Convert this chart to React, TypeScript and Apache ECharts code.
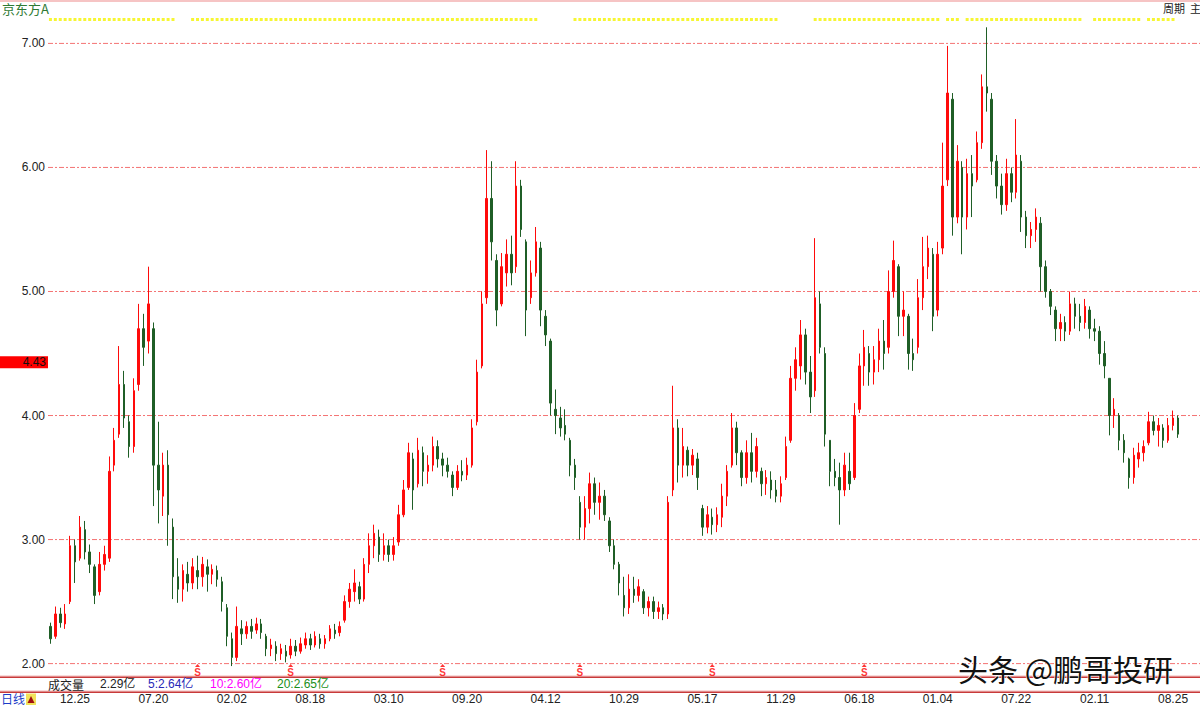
import React, { useEffect, useRef } from 'react';
import * as echarts from 'echarts';

const stockName = '京东方A';
const topRightText = '周期  主';
const periodText = '日线';
const tickLabels = ['12.25', '07.20', '02.02', '08.18', '03.10', '09.20', '04.12', '10.29', '05.17', '11.29', '06.18', '01.04', '07.22', '02.11', '08.25'];
const tickIndex = [5, 21, 37, 53, 69, 85, 101, 117, 133, 149, 165, 181, 197, 213, 229];
const priceLevels = [2, 3, 4, 5, 6, 7];
const cursorPrice = 4.43;
const sellSignalIndex = [30, 49, 80, 108, 135, 166];
const topSignalRanges = [[0, 25], [29, 99], [107, 148], [156, 181], [183, 185], [187, 189], [190, 195], [196, 197], [198, 210], [213, 222], [224, 229]];
const volumeTitle = '成交量';
const volumeValue = '2.29亿';
const volumeMALabels = ['5:2.64亿', '10:2.60亿', '20:2.65亿'];
const volumeMAColors = ['#2828b8', '#ff00ff', '#1a8f1a'];
const watermark = '头条 @鹏哥投研';
const totalSlots = 235;

// [open, close, low, high]
const kline: number[][] = [
  [2.30, 2.20, 2.16, 2.33], [2.22, 2.40, 2.20, 2.46], [2.40, 2.33, 2.29, 2.45], [2.32, 2.40, 2.28, 2.48],
  [2.50, 2.95, 2.48, 3.03], [2.95, 2.82, 2.65, 3.00], [2.85, 3.10, 2.83, 3.19], [3.08, 2.90, 2.84, 3.15],
  [2.90, 2.80, 2.73, 2.96], [2.78, 2.55, 2.48, 2.80], [2.58, 2.80, 2.55, 2.90], [2.80, 2.88, 2.75, 2.95],
  [2.85, 3.55, 2.82, 3.67], [3.60, 3.80, 3.55, 3.90], [3.85, 4.25, 3.82, 4.56], [4.25, 3.98, 3.90, 4.36],
  [3.95, 3.75, 3.66, 4.00], [3.75, 4.20, 3.70, 4.30], [4.25, 4.70, 4.20, 4.90], [4.70, 4.55, 4.40, 4.82],
  [4.60, 4.90, 4.50, 5.20], [4.70, 3.60, 3.27, 4.75], [3.60, 3.40, 3.13, 3.95], [3.35, 3.60, 3.19, 3.70],
  [3.60, 3.20, 2.95, 3.72], [3.10, 2.70, 2.52, 3.17], [2.70, 2.60, 2.49, 2.85], [2.60, 2.75, 2.50, 2.80],
  [2.72, 2.65, 2.58, 2.82], [2.65, 2.78, 2.60, 2.85], [2.75, 2.70, 2.60, 2.87], [2.70, 2.80, 2.62, 2.86],
  [2.78, 2.72, 2.58, 2.84], [2.72, 2.76, 2.64, 2.80], [2.75, 2.68, 2.62, 2.79], [2.66, 2.50, 2.42, 2.70],
  [2.45, 2.22, 2.14, 2.48], [2.20, 2.05, 1.98, 2.25], [2.05, 2.30, 2.02, 2.46], [2.28, 2.24, 2.15, 2.35],
  [2.24, 2.30, 2.20, 2.34], [2.30, 2.26, 2.20, 2.36], [2.27, 2.32, 2.24, 2.37], [2.32, 2.25, 2.20, 2.36],
  [2.22, 2.12, 2.06, 2.24], [2.12, 2.15, 2.06, 2.20], [2.14, 2.08, 2.02, 2.18], [2.08, 2.12, 2.03, 2.16],
  [2.10, 2.06, 2.01, 2.15], [2.07, 2.14, 2.04, 2.20], [2.14, 2.10, 2.06, 2.19], [2.10, 2.16, 2.08, 2.21],
  [2.15, 2.20, 2.12, 2.25], [2.20, 2.15, 2.11, 2.24], [2.15, 2.22, 2.13, 2.26], [2.20, 2.16, 2.12, 2.24],
  [2.16, 2.20, 2.12, 2.23], [2.20, 2.28, 2.18, 2.31], [2.27, 2.24, 2.20, 2.32], [2.25, 2.30, 2.22, 2.34],
  [2.35, 2.50, 2.33, 2.55], [2.50, 2.60, 2.45, 2.65], [2.58, 2.65, 2.50, 2.76], [2.62, 2.52, 2.48, 2.66],
  [2.52, 2.80, 2.50, 2.85], [2.80, 2.95, 2.73, 3.05], [2.95, 3.05, 2.85, 3.12], [3.02, 2.88, 2.82, 3.08],
  [2.88, 2.95, 2.83, 3.05], [2.95, 2.88, 2.82, 3.00], [2.88, 2.95, 2.83, 3.02], [2.98, 3.20, 2.95, 3.28],
  [3.20, 3.40, 3.18, 3.48], [3.42, 3.70, 3.40, 3.78], [3.65, 3.40, 3.24, 3.70], [3.45, 3.72, 3.42, 3.82],
  [3.70, 3.55, 3.43, 3.75], [3.55, 3.60, 3.45, 3.68], [3.60, 3.75, 3.55, 3.83], [3.75, 3.65, 3.58, 3.80],
  [3.65, 3.60, 3.51, 3.70], [3.60, 3.55, 3.50, 3.66], [3.52, 3.42, 3.35, 3.55], [3.42, 3.55, 3.40, 3.60],
  [3.55, 3.52, 3.47, 3.64], [3.52, 3.60, 3.48, 3.66], [3.60, 3.90, 3.58, 3.97], [3.95, 4.35, 3.92, 4.45],
  [4.40, 4.90, 4.38, 5.00], [4.95, 5.75, 4.90, 6.14], [5.75, 5.40, 5.25, 6.05], [5.25, 4.85, 4.72, 5.30],
  [4.90, 5.20, 4.88, 5.31], [5.15, 5.30, 5.04, 5.42], [5.30, 5.15, 5.05, 5.45], [5.20, 5.85, 5.15, 6.05],
  [5.85, 5.50, 5.44, 5.90], [5.40, 4.85, 4.64, 5.42], [4.95, 5.15, 4.90, 5.25], [5.15, 5.40, 5.12, 5.52],
  [5.35, 4.85, 4.72, 5.40], [4.80, 4.65, 4.56, 4.85], [4.60, 4.10, 4.00, 4.62], [4.05, 4.00, 3.85, 4.21],
  [3.98, 3.90, 3.83, 4.07], [3.92, 3.85, 3.80, 4.05], [3.80, 3.60, 3.51, 3.82], [3.60, 3.50, 3.40, 3.65],
  [3.30, 3.10, 3.00, 3.35], [3.10, 3.25, 3.00, 3.35], [3.25, 3.45, 3.13, 3.54], [3.45, 3.30, 3.20, 3.50],
  [3.30, 3.35, 3.16, 3.46], [3.35, 3.20, 3.15, 3.40], [3.15, 2.95, 2.90, 3.18], [2.95, 2.80, 2.76, 3.00],
  [2.80, 2.65, 2.55, 2.82], [2.55, 2.45, 2.38, 2.70], [2.45, 2.60, 2.40, 2.72], [2.60, 2.55, 2.49, 2.70],
  [2.55, 2.62, 2.50, 2.68], [2.58, 2.45, 2.40, 2.60], [2.45, 2.50, 2.38, 2.54], [2.50, 2.42, 2.36, 2.54],
  [2.42, 2.45, 2.36, 2.50], [2.45, 2.40, 2.35, 2.48], [2.40, 3.30, 2.36, 3.35], [3.40, 3.90, 3.35, 4.24],
  [3.90, 3.60, 3.46, 3.97], [3.60, 3.75, 3.50, 3.90], [3.72, 3.60, 3.51, 3.75], [3.60, 3.68, 3.52, 3.73],
  [3.65, 3.50, 3.40, 3.70], [3.25, 3.10, 3.03, 3.28], [3.10, 3.20, 3.05, 3.27], [3.18, 3.12, 3.04, 3.25],
  [3.12, 3.20, 3.06, 3.26], [3.18, 3.35, 3.10, 3.45], [3.35, 3.55, 3.27, 3.60], [3.60, 3.90, 3.58, 4.02],
  [3.90, 3.70, 3.60, 3.95], [3.70, 3.50, 3.43, 3.72], [3.50, 3.70, 3.45, 3.80], [3.70, 3.55, 3.46, 3.86],
  [3.55, 3.75, 3.50, 3.82], [3.55, 3.45, 3.35, 3.58], [3.45, 3.50, 3.36, 3.56], [3.48, 3.40, 3.33, 3.55],
  [3.40, 3.35, 3.30, 3.48], [3.35, 3.45, 3.30, 3.51], [3.50, 3.75, 3.48, 3.83], [3.80, 4.30, 3.78, 4.40],
  [4.30, 4.45, 4.20, 4.55], [4.40, 4.65, 4.29, 4.77], [4.65, 4.35, 4.25, 4.70], [4.35, 4.15, 4.02, 4.48],
  [4.20, 4.95, 4.15, 5.43], [4.90, 4.55, 4.50, 5.00], [4.50, 3.85, 3.75, 4.55], [3.80, 3.55, 3.43, 3.80],
  [3.55, 3.50, 3.43, 3.65], [3.50, 3.40, 3.12, 3.62], [3.40, 3.60, 3.35, 3.70], [3.55, 3.45, 3.40, 3.70],
  [3.50, 4.00, 3.48, 4.10], [4.05, 4.40, 4.02, 4.50], [4.40, 4.55, 4.24, 4.69], [4.50, 4.35, 4.24, 4.56],
  [4.35, 4.45, 4.25, 4.56], [4.45, 4.60, 4.35, 4.70], [4.60, 4.50, 4.37, 4.77], [4.55, 5.00, 4.50, 5.17],
  [5.00, 5.25, 4.95, 5.41], [5.20, 4.80, 4.64, 5.22], [4.80, 4.85, 4.64, 5.00], [4.80, 4.50, 4.37, 4.82],
  [4.50, 4.45, 4.36, 4.62], [4.55, 4.95, 4.50, 5.10], [4.95, 5.20, 4.85, 5.44], [5.20, 5.35, 5.10, 5.45],
  [5.30, 4.80, 4.68, 5.35], [4.85, 5.30, 4.80, 5.40], [5.35, 5.85, 5.30, 6.20], [5.90, 6.60, 5.85, 6.98],
  [6.55, 5.60, 5.45, 6.60], [5.60, 6.05, 5.55, 6.18], [6.00, 5.60, 5.30, 6.05], [5.60, 5.95, 5.50, 6.07],
  [5.95, 5.85, 5.60, 6.10], [5.90, 6.20, 5.88, 6.29], [6.20, 6.65, 6.15, 6.75], [6.65, 6.60, 6.45, 7.13],
  [6.55, 6.05, 5.94, 6.60], [6.05, 5.85, 5.75, 6.10], [5.85, 5.70, 5.62, 5.95], [5.70, 5.95, 5.65, 6.07],
  [5.95, 5.80, 5.72, 6.00], [5.80, 6.10, 5.75, 6.39], [6.05, 5.60, 5.48, 6.10], [5.60, 5.45, 5.35, 5.65],
  [5.45, 5.50, 5.35, 5.56], [5.50, 5.60, 5.40, 5.67], [5.55, 5.20, 5.00, 5.60], [5.20, 5.00, 4.95, 5.25],
  [5.00, 4.88, 4.81, 5.02], [4.85, 4.70, 4.60, 4.88], [4.70, 4.75, 4.60, 4.82], [4.75, 4.68, 4.60, 4.80],
  [4.68, 4.90, 4.65, 5.00], [4.90, 4.80, 4.70, 4.95], [4.80, 4.75, 4.68, 4.90], [4.75, 4.88, 4.70, 4.94],
  [4.85, 4.70, 4.62, 4.88], [4.70, 4.68, 4.60, 4.78], [4.68, 4.50, 4.41, 4.72], [4.50, 4.40, 4.30, 4.60],
  [4.30, 4.00, 3.84, 4.30], [4.00, 4.05, 3.90, 4.14], [4.00, 3.80, 3.72, 4.02], [3.80, 3.70, 3.62, 3.85],
  [3.65, 3.50, 3.41, 3.66], [3.50, 3.68, 3.45, 3.74], [3.65, 3.70, 3.58, 3.78], [3.70, 3.75, 3.63, 3.80],
  [3.78, 3.95, 3.76, 4.03], [3.95, 3.88, 3.84, 4.00], [3.88, 3.92, 3.75, 3.98], [3.90, 3.80, 3.74, 3.93],
  [3.80, 3.92, 3.78, 3.98], [3.92, 3.98, 3.88, 4.04], [3.98, 3.85, 3.82, 4.00],
];

const UP = '#ff0a0a';
const DOWN = '#1f5e26';
const GRID_LINE = '#f25a5a';
const AXIS_MIN = 1.9;
const AXIS_MAX = 7.35;
const PX_PER_UNIT = 124.2;
const TOP_SIGNAL_PRICE = 7.193;
const SELL_SIGNAL_PRICE = 1.985;
const NUM_FONT = '"Liberation Sans", "Noto Sans CJK SC", sans-serif';
const CJK_FONT = '"Noto Sans CJK SC", "Liberation Sans", sans-serif';

export default function App() {
  const ref = useRef<HTMLDivElement>(null);

  useEffect(() => {
    if (!ref.current) return;
    const chart = echarts.init(ref.current, undefined, { renderer: 'svg' });

    const categories = Array.from({ length: totalSlots }, (_, i) => String(i));
    const labelMap: Record<number, string> = {};
    tickIndex.forEach((idx, k) => { labelMap[idx] = tickLabels[k]; });
    const candleData: any[] = categories.map((_, i) => (kline[i] ? kline[i] : '-'));

    const topSignals: number[][] = [];
    topSignalRanges.forEach(([a, b]) => {
      for (let i = a; i <= b; i++) topSignals.push([i, TOP_SIGNAL_PRICE]);
    });
    const sellSignals = sellSignalIndex.map((i) => [i, SELL_SIGNAL_PRICE]);

    const gridHeight = (AXIS_MAX - AXIS_MIN) * PX_PER_UNIT;

    const maX = [148, 210, 277];
    const maTexts = volumeMALabels.map((t, k) => ({
      type: 'text', x: maX[k], y: 684,
      style: { text: t, fill: volumeMAColors[k], font: `12px ${NUM_FONT}`, verticalAlign: 'middle' },
    }));

    const levelSeries = priceLevels.map((v) => ({
      type: 'line',
      xAxisIndex: 1,
      data: [[0, v], [1, v]],
      symbol: 'none',
      silent: true,
      z: 1,
      color: GRID_LINE,
      lineStyle: { color: GRID_LINE, type: [5, 2, 2, 2], width: 1, opacity: 0.85 },
    }));

    chart.setOption({
      animation: false,
      backgroundColor: '#ffffff',
      grid: { left: 48, right: 0, top: 0, height: gridHeight },
      xAxis: [
        {
          type: 'category',
          data: categories,
          boundaryGap: true,
          axisLine: { show: false },
          axisTick: { show: false },
          splitLine: { show: false },
          axisLabel: {
            show: true,
            interval: (index: number) => labelMap[index] !== undefined,
            formatter: (_v: string, index: number) => labelMap[index] || '',
            margin: 17,
            color: '#222',
            fontSize: 12,
            fontFamily: NUM_FONT,
          },
        },
        {
          type: 'value', min: 0, max: 1, show: false,
          axisLine: { show: false }, axisTick: { show: false }, axisLabel: { show: false }, splitLine: { show: false },
        },
      ],
      yAxis: {
        type: 'value',
        min: AXIS_MIN,
        max: AXIS_MAX,
        axisLine: { show: false },
        axisTick: { show: false },
        axisLabel: { show: false },
        splitLine: { show: false },
      },
      series: [
        ...levelSeries,
        {
          name: 'levelLabels',
          type: 'line',
          xAxisIndex: 1,
          data: [],
          silent: true,
          markLine: {
            silent: true,
            symbol: ['none', 'none'],
            lineStyle: { color: 'rgba(255,255,255,0)', width: 0.01, opacity: 1 },
            label: {
              position: 'start', distance: 3, color: '#222', fontSize: 12, fontFamily: NUM_FONT,
              formatter: (p: any) => Number(p.value).toFixed(2),
            },
            data: [
              ...priceLevels.map((v) => ({ yAxis: v })),
              {
                yAxis: cursorPrice,
                label: {
                  show: true, position: 'start', distance: 0, backgroundColor: '#ff0000', color: '#111',
                  width: 46, padding: [1, 2, 0, 0], lineHeight: 11, align: 'right', opacity: 1,
                  fontSize: 12, fontFamily: NUM_FONT,
                },
              },
            ],
          },
        },
        {
          type: 'candlestick',
          data: candleData,
          barWidth: 2,
          z: 3,
          itemStyle: {
            color: UP, color0: DOWN, borderColor: UP, borderColor0: DOWN, borderWidth: 1,
          },
        },
        {
          type: 'scatter',
          data: topSignals,
          symbol: 'rect',
          symbolSize: [3, 3],
          itemStyle: { color: '#f4f400' },
          silent: true,
        },
        {
          type: 'scatter',
          data: sellSignals,
          symbol: 'triangle',
          symbolSize: [5, 3],
          itemStyle: { color: '#ff0000' },
          silent: true,
          label: {
            show: true, position: 'bottom', distance: 1, formatter: () => 'S',
            color: '#ff0000', fontSize: 10, fontWeight: 'bold', fontFamily: NUM_FONT,
          },
        },
      ],
      graphic: [
        { type: 'rect', shape: { x: 0, y: 0, width: 1200, height: 2 }, style: { fill: '#f6c4c4' }, silent: true },
        { type: 'text', x: 2, y: 8, style: { text: stockName, fill: '#2f7a34', font: `13px ${CJK_FONT}`, verticalAlign: 'middle' } },
        { type: 'text', x: 1163, y: 8, style: { text: topRightText, fill: '#222', font: `11px ${CJK_FONT}`, verticalAlign: 'middle' } },
        { type: 'rect', shape: { x: 0, y: 675.5, width: 1200, height: 1 }, style: { fill: '#f4b8b8' }, silent: true },
        { type: 'rect', shape: { x: 0, y: 676.5, width: 1200, height: 1.5 }, style: { fill: '#c83a3a' }, silent: true },
        { type: 'rect', shape: { x: 0, y: 690.5, width: 1200, height: 1 }, style: { fill: '#f4b8b8' }, silent: true },
        { type: 'rect', shape: { x: 0, y: 691.5, width: 1200, height: 1.5 }, style: { fill: '#c83a3a' }, silent: true },
        { type: 'text', x: 48, y: 684, style: { text: volumeTitle, fill: '#222', font: `12px ${CJK_FONT}`, verticalAlign: 'middle' } },
        { type: 'text', x: 100, y: 684, style: { text: volumeValue, fill: '#222', font: `12px ${NUM_FONT}`, verticalAlign: 'middle' } },
        ...maTexts,
        { type: 'text', x: 1, y: 698, style: { text: periodText, fill: '#1c3cc8', font: `12px ${CJK_FONT}`, verticalAlign: 'middle' } },
        { type: 'rect', shape: { x: 26, y: 693.5, width: 10, height: 11.5 }, style: { fill: '#f2e25a' }, silent: true },
        { type: 'polygon', shape: { points: [[27.5, 703], [31, 696], [34.5, 703]] }, style: { fill: '#a01010' }, silent: true },
        {
          type: 'text', x: 958, y: 668, z: 100,
          style: {
            text: watermark, fill: '#111', font: `30px ${CJK_FONT}`, verticalAlign: 'middle',
            stroke: '#ffffff', lineWidth: 1,
            shadowColor: 'rgba(0,0,0,0.45)', shadowBlur: 2, shadowOffsetX: 2, shadowOffsetY: 2,
          },
        },
      ],
    });

    return () => { chart.dispose(); };
  }, []);

  return <div ref={ref} style={{ position: 'absolute', left: 0, top: 0, width: 1200, height: 705 }} />;
}
